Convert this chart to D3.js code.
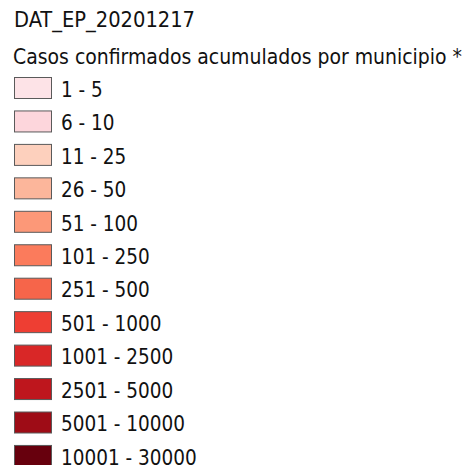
<!DOCTYPE html>
<html><head><meta charset="utf-8">
<script src="https://cdn.jsdelivr.net/npm/d3@7"></script>
<style>body{margin:0;background:#fff}</style>
</head><body>
<svg id="c" width="467" height="465"></svg>
<script>
const layerName = "DAT_EP_20201217";
const legendTitle = "Casos confirmados acumulados por municipio *";
const classLabels = ["1 - 5","6 - 10","11 - 25","26 - 50","51 - 100","101 - 250","251 - 500","501 - 1000","1001 - 2500","2501 - 5000","5001 - 10000","10001 - 30000"];
const classColors = ["#fde3e7","#fdd6dc","#fdd0bd","#fcb69b","#fc9878","#fb7b5c","#f6654a","#ee3e33","#d92727","#be161d","#9e0c16","#67000d"];

const svg = d3.select("#c");
const font = "'DejaVu Sans Condensed', 'DejaVu Sans', Verdana, sans-serif";
svg.append("text").attr("x",14).attr("y",27).attr("font-family",font).attr("font-size",20.5)
  .attr("fill","#111").attr("textLength",181).attr("lengthAdjust","spacingAndGlyphs").text(layerName);
svg.append("text").attr("x",13).attr("y",63.5).attr("font-family",font).attr("font-size",20.5)
  .attr("fill","#111").attr("textLength",449).attr("lengthAdjust","spacingAndGlyphs").text(legendTitle);

const y = d3.scaleBand().domain(classLabels).range([77, 77 + 33.45*classLabels.length]).paddingInner(0);
const g = svg.append("g");
const rows = g.selectAll("g").data(classLabels).join("g")
  .attr("transform", d => `translate(0,${y(d)})`);
rows.append("rect").attr("x",14.5).attr("y",0.5).attr("width",37).attr("height",21)
  .attr("fill",(d,i)=>classColors[i]).attr("stroke","#5a5a5a").attr("stroke-width",1);
rows.append("text").attr("x",61).attr("y",19.8).attr("font-family",font).attr("font-size",20.5)
  .attr("fill","#111").text(d=>d);
</script>
</body></html>
